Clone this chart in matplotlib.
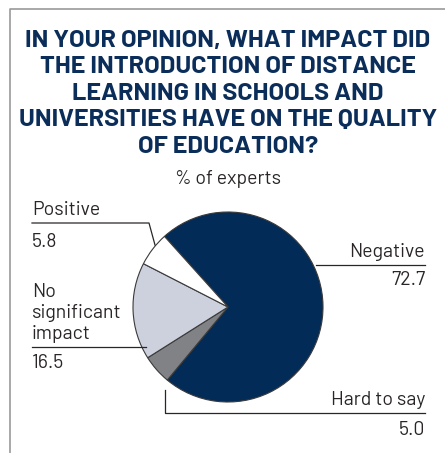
import matplotlib
matplotlib.use("Agg")
import matplotlib.pyplot as plt
from matplotlib.lines import Line2D

# survey answers, in clockwise order starting from the top-left edge of the pie
labels = ["Negative", "Hard to say", "No\nsignificant\nimpact", "Positive"]
values = [72.7, 5.0, 16.5, 5.8]
colors = ["#022b57", "#808285", "#cdd1de", "#ffffff"]

title = ("IN YOUR OPINION, WHAT IMPACT DID\nTHE INTRODUCTION OF DISTANCE\n"
         "LEARNING IN SCHOOLS AND\nUNIVERSITIES HAVE ON THE QUALITY\nOF EDUCATION?")
subtitle = "% of experts"

W, H = 445, 453
TITLE_FONT = ["Barlow", "Roboto", "DejaVu Sans"]
TEXT_FONT = ["Barlow", "Roboto", "DejaVu Sans"]
NAVY = "#0b2d59"
INK = "#2a2627"

fig = plt.figure(figsize=(W / 100, H / 100), dpi=100)
ax = fig.add_axes([0, 0, 1, 1])


def y(py):
    # pixel rows are counted from the top
    return H - py


ax.pie(values, colors=colors, startangle=132, counterclock=False,
       center=(228, y(307)), radius=95,
       wedgeprops=dict(edgecolor="#3a3a3a", linewidth=0.8))
ax.set_xlim(0, W)
ax.set_ylim(0, H)
ax.set_aspect("equal")
ax.axis("off")

# frame on the left and top
ax.add_line(Line2D([10, 10, W], [0, y(9), y(9)], color="#9a9a9a", lw=1.2))

fig.text(228 / W, 1 - 30 / H, title, ha="center", va="top", fontsize=18.2,
         fontweight="bold", color=NAVY, family=TITLE_FONT, linespacing=1.26)
fig.text(228 / W, 1 - 184 / H, subtitle, ha="center", va="baseline",
         fontsize=14, color=INK, family=TEXT_FONT)

lw = 0.9
lc = INK
fs = 14


def label(xpos, line_y, name, value, ha, gap=22):
    ax.text(xpos, y(line_y - 8), name, ha=ha, va="baseline", fontsize=fs,
            color=INK, family=TEXT_FONT, linespacing=1.2)
    ax.text(xpos, y(line_y + gap), f"{value:.1f}", ha=ha, va="baseline",
            fontsize=fs, color=INK, family=TEXT_FONT)


# Positive
ax.plot([32, 149, 155], [y(223), y(223), y(245)], color=lc, lw=lw)
label(32, 223, labels[3], values[3], "left", 24)

# Negative
ax.plot([316, 425], [y(265), y(265)], color=lc, lw=lw)
label(425, 265, labels[0], values[0], "right", 20)

# No significant impact
ax.plot([32, 146], [y(347), y(347)], color=lc, lw=lw)
label(32, 347, labels[2], values[2], "left", 21)

# Hard to say
ax.plot([165, 165, 425], [y(390), y(413), y(413)], color=lc, lw=lw)
label(425, 413, labels[1], values[1], "right", 22)

fig.savefig("out.png", dpi=100)
